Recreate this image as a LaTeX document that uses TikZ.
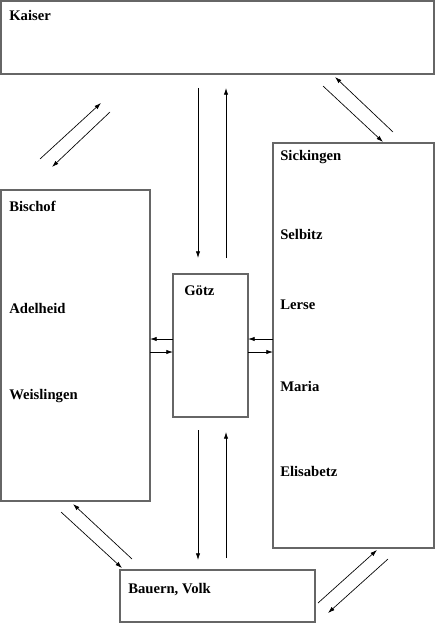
\documentclass[tikz,border=0pt]{standalone}
\usepackage{fontspec}
\setmainfont{Liberation Serif}
\usetikzlibrary{arrows.meta,fit}

\tikzset{
  figbox/.style={draw=gray!80!black, line width=1pt, inner sep=0pt, fill=white},
  figlbl/.style={anchor=base west, inner sep=0pt, font=\fontsize{11}{13}\selectfont\bfseries},
  arr/.style={-{Latex[length=5pt,width=3.2pt]}, line width=0.5pt}
}

\begin{document}
\begin{tikzpicture}[x=0.75pt,y=-0.75pt]
  \useasboundingbox (0,0) rectangle (435,624);
  % boxes
  \node[figbox, fit={(1,1) (434,74)}] (kaiser) {};
  \node[figbox, fit={(1,190) (150,501)}] (bischof) {};
  \node[figbox, fit={(173,274) (248,417)}] (goetz) {};
  \node[figbox, fit={(273,143) (434,548)}] (sickingen) {};
  \node[figbox, fit={(120,570) (315,622)}] (bauern) {};
  % texts
  \node[figlbl] (tkaiser) at (9,21) {Kaiser};
  \node[figlbl] (tbischof) at (9,211) {Bischof};
  \node[figlbl] (tadelheid) at (9,313) {Adelheid};
  \node[figlbl] (tweislingen) at (9,399) {Weislingen};
  \node[figlbl] (tgoetz) at (184,295) {Götz};
  \foreach \name/\y in {Sickingen/161, Selbitz/239, Lerse/309, Maria/391, Elisabetz/476}{
    \node[figlbl] (t\name) at (280,\y) {\name};
  }
  \node[figlbl] (tbauern) at (128,593) {Bauern, Volk};
  % arrows
  \foreach \name/\a/\b in {
      kd/{198,88}/{198,258},  ku/{226,258}/{226,88},
      bd/{198,430}/{198,560}, bu/{226,558}/{226,432},
      gl/{173,339}/{150,339}, gr/{150,352}/{173,352},
      sl/{273,339}/{248,339}, sr/{248,352}/{273,352},
      ula/{40,159}/{101,103}, ulb/{110,112}/{52,167},
      ura/{323,86}/{383,142}, urb/{393,132}/{335,77},
      lla/{61,512}/{122,568}, llb/{132,559}/{73,504},
      lra/{318,603}/{377,550}, lrb/{388,559}/{328,613}}{
    \coordinate (\name s) at (\a);
    \coordinate (\name e) at (\b);
    \draw[arr] (\name s) -- (\name e);
  }
\end{tikzpicture}
\end{document}
